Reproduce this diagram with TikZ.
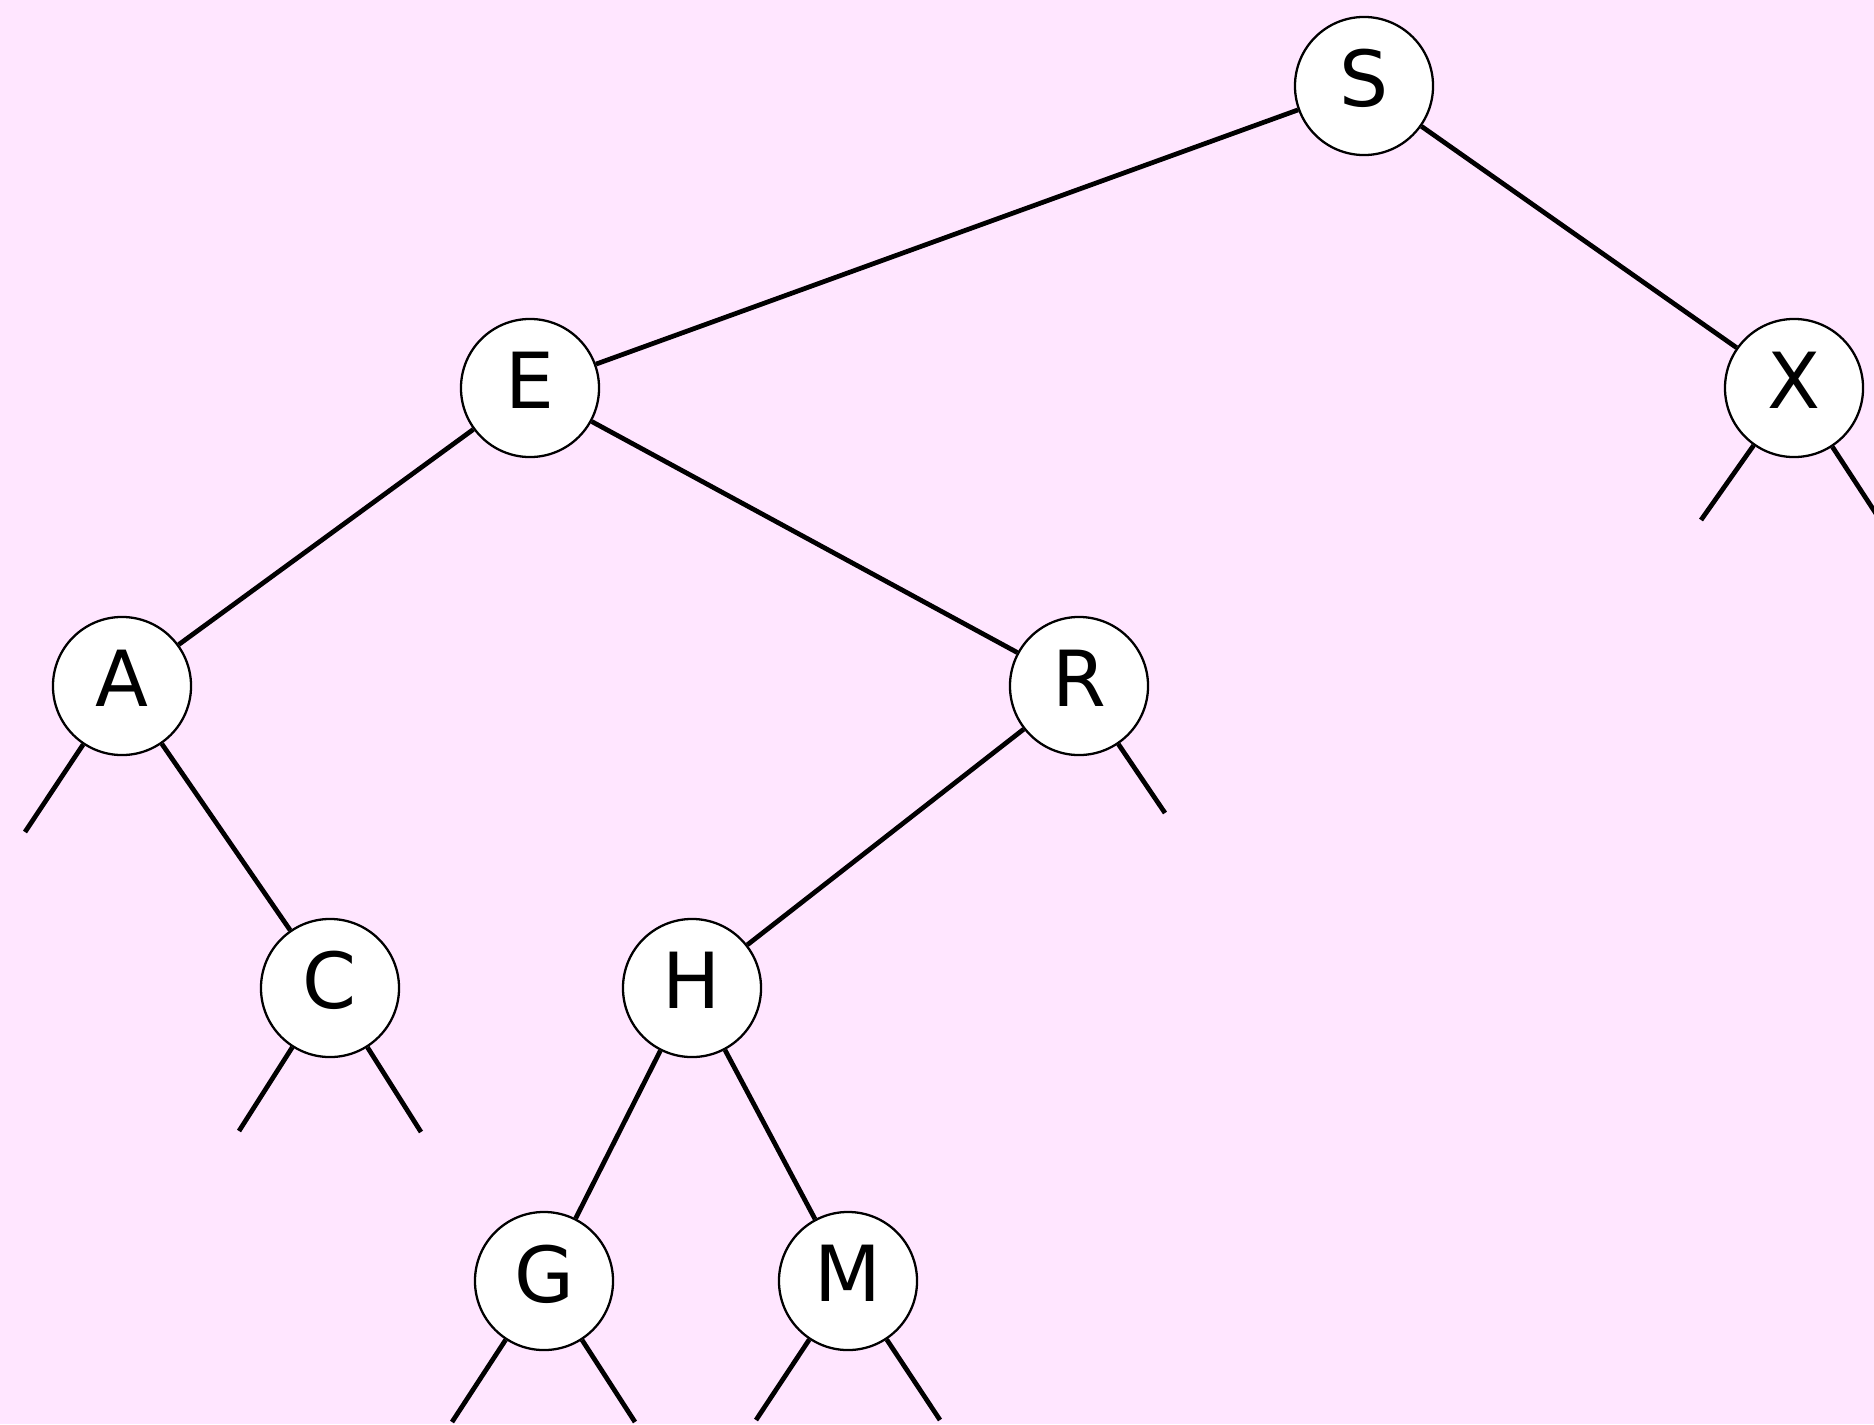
\documentclass[tikz,border=0pt]{standalone}
\usepackage{fontspec}
\setmainfont{DejaVu Sans}
\usetikzlibrary{positioning}
\definecolor{bgpink}{RGB}{255,230,255}

\begin{document}
\begin{tikzpicture}[x=0.01cm,y=-0.01cm,
  key/.style={circle,draw,fill=white,line width=0.65pt,minimum size=1.38cm,inner sep=0pt,
    font=\fontsize{22}{26}\selectfont,text depth=4.4pt},
  link/.style={line width=1.35pt}]
\fill[bgpink] (0,0) rectangle (1874,1424);
\useasboundingbox (0,0) rectangle (1874,1424);
% keys of the tree
\node[key] (S) at (1364,86) {S};
\node[key] (E) at (530,388) {E};
\node[key] (X) at (1794,388) {X};
\node[key] (A) at (122,686) {A};
\node[key] (R) at (1079,686) {R};
\node[key] (C) at (330,988) {C};
\node[key] (H) at (692,988) {H};
\node[key] (G) at (544,1281) {G};
\node[key] (M) at (848,1281) {M};
% null links
\coordinate (Al) at (25,832);
\coordinate (Cl) at (239,1131);
\coordinate (Cr) at (421,1132);
\coordinate (Rr) at (1165,813);
\coordinate (Xl) at (1701,520);
\coordinate (Xr) at (1886,529);
\coordinate (Gl) at (452,1422);
\coordinate (Gr) at (635,1422);
\coordinate (Ml) at (756,1420);
\coordinate (Mr) at (940,1420);
\draw[link] (S)--(E) (S)--(X) (E)--(A) (E)--(R) (A)--(C) (R)--(H) (H)--(G) (H)--(M);
\draw[link] (A)--(Al) (C)--(Cl) (C)--(Cr) (R)--(Rr) (X)--(Xl) (X)--(Xr)
  (G)--(Gl) (G)--(Gr) (M)--(Ml) (M)--(Mr);
\end{tikzpicture}
\end{document}
